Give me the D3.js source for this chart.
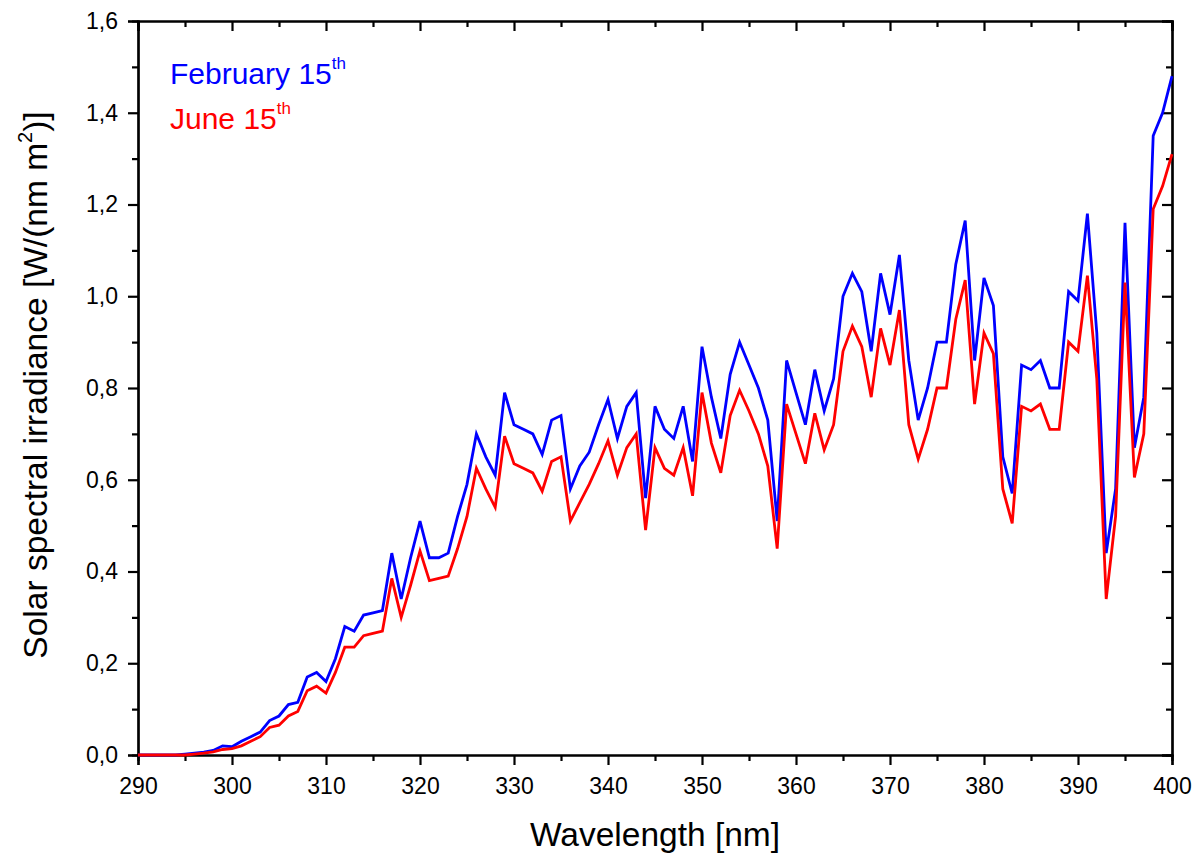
<!DOCTYPE html>
<html>
<head>
<meta charset="utf-8">
<script src="https://cdn.jsdelivr.net/npm/d3@7"></script>
<style>
  body { margin: 0; background: #fff; }
  svg { display: block; font-family: "Liberation Sans", Arial, sans-serif; }
</style>
</head>
<body>
<svg id="chart" width="1204" height="863"></svg>
<script>
const wavelengths = d3.range(290, 401);
const february = [
  0,0,0,0,0,0.002,0.004,0.006,0.01,0.02,
  0.018,0.03,0.04,0.05,0.075,0.085,0.11,0.115,0.17,0.18,
  0.16,0.21,0.28,0.27,0.305,0.31,0.315,0.44,0.34,0.43,
  0.51,0.43,0.43,0.44,0.52,0.59,0.70,0.65,0.61,0.79,
  0.72,0.71,0.70,0.655,0.73,0.74,0.58,0.63,0.66,0.72,
  0.775,0.69,0.76,0.79,0.56,0.76,0.71,0.69,0.76,0.64,
  0.89,0.78,0.69,0.83,0.90,0.85,0.80,0.73,0.51,0.86,
  0.79,0.72,0.84,0.75,0.82,1.00,1.05,1.01,0.88,1.05,
  0.96,1.09,0.86,0.73,0.80,0.90,0.90,1.07,1.165,0.86,
  1.04,0.98,0.65,0.57,0.85,0.84,0.86,0.80,0.80,1.01,
  0.99,1.18,0.92,0.44,0.58,1.16,0.67,0.78,1.35,1.40,
  1.48
];
const june = [
  0,0,0,0,0,0,0.002,0.004,0.007,0.012,
  0.014,0.02,0.03,0.04,0.06,0.065,0.085,0.095,0.14,0.15,
  0.135,0.18,0.235,0.235,0.26,0.265,0.27,0.385,0.30,0.37,
  0.445,0.38,0.385,0.39,0.45,0.52,0.625,0.58,0.54,0.695,
  0.635,0.625,0.615,0.575,0.64,0.65,0.51,0.55,0.59,0.635,
  0.685,0.61,0.67,0.70,0.49,0.67,0.625,0.61,0.67,0.565,
  0.79,0.68,0.615,0.74,0.795,0.75,0.70,0.63,0.45,0.765,
  0.70,0.635,0.745,0.665,0.72,0.88,0.935,0.89,0.78,0.93,
  0.85,0.97,0.72,0.645,0.71,0.80,0.80,0.95,1.035,0.765,
  0.92,0.875,0.58,0.505,0.76,0.75,0.765,0.71,0.71,0.90,
  0.88,1.045,0.82,0.34,0.52,1.03,0.605,0.70,1.19,1.24,
  1.31
];
const xMajorTicks = d3.range(290, 401, 10);
const xMinorTicks = d3.range(295, 400, 10);
const yMajorTicks = [0, 0.2, 0.4, 0.6, 0.8, 1.0, 1.2, 1.4, 1.6];
const yMinorTicks = [0.1, 0.3, 0.5, 0.7, 0.9, 1.1, 1.3, 1.5];
const seriesNames = ["February 15", "June 15"];
const seriesColors = ["#0000ff", "#ff0000"];

const L = 138, R = 1172, T = 21, B = 755;
const svg = d3.select("#chart");
const x = d3.scaleLinear().domain([290, 400]).range([L, R]);
const y = d3.scaleLinear().domain([0, 1.6]).range([B, T]);
const fmt = d => d3.format(".1f")(d).replace(".", ",");

function styleAxis(g) {
  g.select(".domain").attr("stroke", "#000").attr("stroke-width", 2.2);
  g.selectAll(".tick line").attr("stroke", "#000").attr("stroke-width", 2.2);
  g.selectAll(".tick text").attr("fill", "#000").attr("font-size", 23)
    .attr("font-family", "'Liberation Sans', Arial, sans-serif");
}

// bottom axis
svg.append("g").attr("transform", `translate(0,${B})`)
  .call(d3.axisBottom(x).tickValues(xMajorTicks).tickSize(10).tickPadding(13).tickFormat(d3.format("d")))
  .call(styleAxis);
svg.append("g").attr("transform", `translate(0,${B})`)
  .call(d3.axisBottom(x).tickValues(xMinorTicks).tickSize(6).tickFormat(""))
  .call(styleAxis);
// top axis (inward ticks)
svg.append("g").attr("transform", `translate(0,${T})`)
  .call(d3.axisBottom(x).tickValues(xMajorTicks).tickSize(10).tickFormat(""))
  .call(styleAxis);
svg.append("g").attr("transform", `translate(0,${T})`)
  .call(d3.axisBottom(x).tickValues(xMinorTicks).tickSize(6).tickFormat(""))
  .call(styleAxis);
// left axis
svg.append("g").attr("transform", `translate(${L},0)`)
  .call(d3.axisLeft(y).tickValues(yMajorTicks).tickSize(10).tickPadding(10).tickFormat(fmt))
  .call(styleAxis);
svg.append("g").attr("transform", `translate(${L},0)`)
  .call(d3.axisLeft(y).tickValues(yMinorTicks).tickSize(6).tickFormat(""))
  .call(styleAxis);
// right axis (inward ticks)
svg.append("g").attr("transform", `translate(${R},0)`)
  .call(d3.axisLeft(y).tickValues(yMajorTicks).tickSize(10).tickFormat(""))
  .call(styleAxis);
svg.append("g").attr("transform", `translate(${R},0)`)
  .call(d3.axisLeft(y).tickValues(yMinorTicks).tickSize(6).tickFormat(""))
  .call(styleAxis);

// lines
const line = d3.line().x((d, i) => x(wavelengths[i])).y(d => y(d));
[february, june].forEach((s, i) => {
  svg.append("path").datum(s)
    .attr("fill", "none")
    .attr("stroke", seriesColors[i])
    .attr("stroke-width", 2.8)
    .attr("stroke-linejoin", "miter")
    .attr("d", line);
});

// legend
const legendY = [84, 129];
seriesNames.forEach((name, i) => {
  const t = svg.append("text").attr("x", 170).attr("y", legendY[i])
    .attr("fill", seriesColors[i]).attr("font-size", 30);
  t.append("tspan").text(name);
  t.append("tspan").attr("font-size", 17).attr("dy", -15).text("th");
});

// axis titles
svg.append("text").attr("x", (L + R) / 2).attr("y", 846)
  .attr("text-anchor", "middle").attr("font-size", 33.5).attr("fill", "#000")
  .text("Wavelength [nm]");

const yt = svg.append("text")
  .attr("transform", `translate(47,385) rotate(-90)`)
  .attr("text-anchor", "middle").attr("font-size", 33.5).attr("fill", "#000");
yt.append("tspan").text("Solar spectral irradiance [W/(nm m");
yt.append("tspan").attr("font-size", 20).attr("dy", -15).text("2");
yt.append("tspan").attr("dy", 15).text(")]");
</script>
</body>
</html>
